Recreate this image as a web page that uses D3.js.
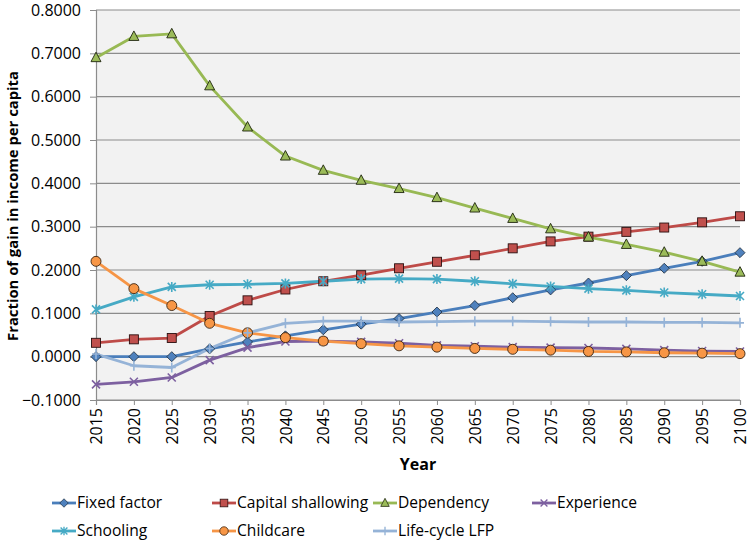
<!DOCTYPE html>
<html><head><meta charset="utf-8">
<script src="https://cdn.jsdelivr.net/npm/d3@7"></script>
<style>
body{margin:0;background:#fff;}
text{font-family:"Open Sans","Liberation Sans",sans-serif;}
</style></head><body>
<svg id="c" width="750" height="543"></svg>
<script>
const years = [2015,2020,2025,2030,2035,2040,2045,2050,2055,2060,2065,2070,2075,2080,2085,2090,2095,2100];
const yTicks = [-0.1,0,0.1,0.2,0.3,0.4,0.5,0.6,0.7,0.8];
const fixedFactor = [0,0,0,0.018,0.034,0.048,0.062,0.075,0.088,0.103,0.118,0.136,0.154,0.170,0.187,0.204,0.220,0.240];
const capitalShallowing = [0.032,0.040,0.043,0.094,0.130,0.155,0.174,0.188,0.204,0.219,0.234,0.250,0.266,0.277,0.288,0.298,0.310,0.324];
const dependency = [0.690,0.739,0.745,0.625,0.530,0.463,0.430,0.407,0.388,0.367,0.343,0.319,0.295,0.276,0.259,0.241,0.220,0.195];
const experience = [-0.064,-0.058,-0.048,-0.008,0.021,0.035,0.036,0.034,0.031,0.026,0.024,0.022,0.021,0.020,0.018,0.015,0.013,0.012];
const schooling = [0.109,0.138,0.161,0.166,0.167,0.169,0.174,0.179,0.180,0.179,0.174,0.168,0.162,0.157,0.153,0.148,0.144,0.140];
const childcare = [0.220,0.157,0.118,0.077,0.055,0.044,0.036,0.030,0.025,0.022,0.019,0.017,0.015,0.012,0.011,0.009,0.008,0.007];
const lifeCycleLFP = [0.006,-0.021,-0.025,0.019,0.055,0.077,0.082,0.082,0.080,0.081,0.082,0.082,0.081,0.080,0.080,0.079,0.079,0.078];
const seriesNames = ["Fixed factor","Capital shallowing","Dependency","Experience","Schooling","Childcare","Life-cycle LFP"];

const series = [
  {name:seriesNames[0], values:fixedFactor, line:"#4A7EBB", fill:"#4F81BD", marker:"diamond"},
  {name:seriesNames[1], values:capitalShallowing, line:"#BE4B48", fill:"#C0504D", marker:"square"},
  {name:seriesNames[2], values:dependency, line:"#98B954", fill:"#9BBB59", marker:"triangle"},
  {name:seriesNames[3], values:experience, line:"#7D60A0", fill:"#8064A2", marker:"x"},
  {name:seriesNames[4], values:schooling, line:"#46AAC5", fill:"#4BACC6", marker:"star"},
  {name:seriesNames[5], values:childcare, line:"#F69546", fill:"#F79646", marker:"circle"},
  {name:seriesNames[6], values:lifeCycleLFP, line:"#95B3D7", fill:"#95B3D7", marker:"plus"}
];

const svg = d3.select("#c");
const L=96, R=740, T=10, B=400;
const x = d3.scalePoint().domain(years).range([L,R]);
const y = d3.scaleLinear().domain([-0.1,0.8]).range([B,T]);

svg.append("rect").attr("x",L).attr("y",T).attr("width",R-L).attr("height",B-T).attr("fill","#f2f2f2");

// gridlines
svg.append("g").selectAll("line").data(yTicks).join("line")
  .attr("x1",L).attr("x2",R).attr("y1",d=>y(d)).attr("y2",d=>y(d))
  .attr("stroke","#8c8c8c").attr("stroke-width",1.2);

// y axis
const ya = svg.append("g").attr("transform",`translate(${L},0)`)
  .call(d3.axisLeft(y).tickValues(yTicks).tickSize(6).tickPadding(9).tickFormat(d3.format(".4f")));
ya.select(".domain").attr("stroke","#8c8c8c").attr("stroke-width",1.2);
ya.selectAll(".tick line").attr("stroke","#8c8c8c");
ya.selectAll("text").attr("font-size",16).attr("fill","#000").attr("font-family","Open Sans");

// x axis
const xa = svg.append("g").attr("transform",`translate(0,${B})`)
  .call(d3.axisBottom(x).tickSize(5).tickPadding(8));
xa.select(".domain").attr("stroke","#8c8c8c").attr("stroke-width",1.2);
xa.selectAll(".tick line").attr("stroke","#8c8c8c");
xa.selectAll("text").attr("font-size",16).attr("fill","#000").attr("font-family","Open Sans")
  .attr("transform","rotate(-90)").attr("text-anchor","end").attr("dy","0.35em").attr("x",-8).attr("y",0);

// titles
svg.append("text").attr("x",418).attr("y",470).attr("text-anchor","middle")
  .attr("font-size",16).attr("font-weight","bold").text("Year");
svg.append("text").attr("transform","translate(18,206) rotate(-90)").attr("text-anchor","middle")
  .attr("font-size",14.8).attr("font-weight","bold").text("Fraction of gain in income per capita");

function drawMarker(g, type, s){
  const sz=4.5;
  if(type==="diamond"){
    g.append("path").attr("d","M0,-5L5,0L0,5L-5,0Z").attr("fill",s.fill).attr("stroke","#1b2a3a").attr("stroke-width",0.8);
  } else if(type==="square"){
    g.append("rect").attr("x",-sz).attr("y",-sz).attr("width",2*sz).attr("height",2*sz).attr("fill",s.fill).attr("stroke","#2a0f0f").attr("stroke-width",0.9);
  } else if(type==="triangle"){
    g.append("path").attr("d","M0,-5.5L5,4L-5,4Z").attr("fill",s.fill).attr("stroke","#1f260f").attr("stroke-width",0.9);
  } else if(type==="circle"){
    g.append("circle").attr("r",5).attr("fill",s.fill).attr("stroke","#3a2410").attr("stroke-width",0.9);
  } else if(type==="x"){
    g.append("path").attr("d","M-4,-4L4,4M-4,4L4,-4").attr("stroke",s.line).attr("stroke-width",1.6).attr("fill","none");
  } else if(type==="star"){
    g.append("path").attr("d","M-4,-4L4,4M-4,4L4,-4M0,-5L0,5").attr("stroke",s.line).attr("stroke-width",1.6).attr("fill","none");
  } else if(type==="plus"){
    g.append("path").attr("d","M0,-5L0,5M-4,0L4,0").attr("stroke",s.line).attr("stroke-width",1.6).attr("fill","none");
  }
}

const line = d3.line().x((d,i)=>x(years[i])).y(d=>y(d));
series.forEach(s=>{
  svg.append("path").attr("d",line(s.values)).attr("fill","none").attr("stroke",s.line)
    .attr("stroke-width",2.8).attr("stroke-linejoin","round");
});
series.forEach(s=>{
  s.values.forEach((v,i)=>{
    const g = svg.append("g").attr("transform",`translate(${x(years[i])},${y(v)})`);
    drawMarker(g, s.marker, s);
  });
});

// legend
const legX = [52,212,373,532];
const legY = [503,531];
series.forEach((s,i)=>{
  const col = i<4 ? i : i-4, row = i<4 ? 0 : 1;
  const g = svg.append("g").attr("transform",`translate(${legX[col]},${legY[row]})`);
  g.append("line").attr("x1",0).attr("x2",24).attr("y1",0).attr("y2",0).attr("stroke",s.line).attr("stroke-width",2.8);
  const m = g.append("g").attr("transform","translate(12,0) scale(0.85)");
  drawMarker(m, s.marker, s);
  g.append("text").attr("x",25).attr("y",0).attr("dy","0.35em").attr("font-size",15.6).text(s.name);
});
</script>
</body></html>
